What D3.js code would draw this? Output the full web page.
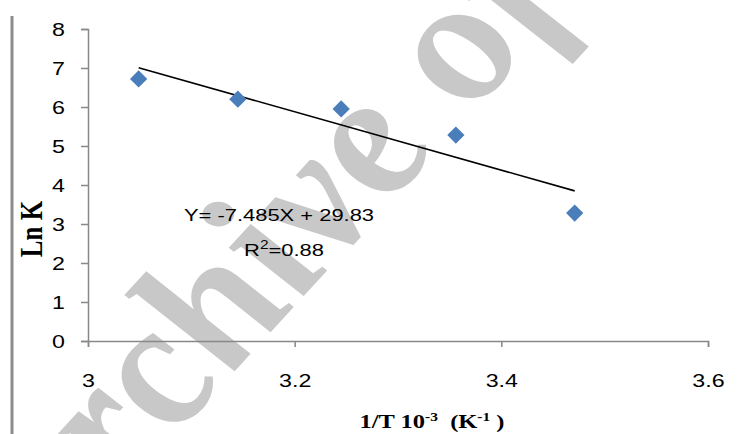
<!DOCTYPE html>
<html>
<head>
<meta charset="utf-8">
<script src="https://cdn.jsdelivr.net/npm/d3@7"></script>
<style>
  html, body { margin: 0; padding: 0; background: #fff; }
  svg { display: block; }
</style>
</head>
<body>
<svg id="chart" width="747" height="434"></svg>
<script>
// ---- data ----
const xValues = [3.049, 3.145, 3.245, 3.356, 3.471];
const lnK = [6.72, 6.20, 5.95, 5.28, 3.28];
const slope = -7.485;
const intercept = 29.83;
const r2Label = "0.88";
const xTicks = [3, 3.2, 3.4, 3.6];
const yTicks = [0, 1, 2, 3, 4, 5, 6, 7, 8];
const xTitle = "1/T 10";
const yTitle = "Ln K";
const watermark = "Archive of SID";

const SX = 1.29; // horizontal stretch of the original picture's text
const svg = d3.select("#chart");
const x = d3.scaleLinear().domain([3, 3.6]).range([88, 708]);
const y = d3.scaleLinear().domain([0, 8]).range([341, 29]);

// left border line
svg.append("line").attr("x1", 12).attr("x2", 12).attr("y1", 16).attr("y2", 434)
  .attr("stroke", "#8c8c8c").attr("stroke-width", 3);

// watermark (behind)
svg.append("text")
  .attr("transform", `translate(48,574) scale(${SX},1) rotate(-54.5)`)
  .attr("font-family", "Liberation Serif")
  .attr("font-weight", "bold").attr("font-style", "italic")
  .attr("font-size", 164).attr("fill", "#c8c8c8")
  .text(watermark);

// axes
const axisColor = "#888888";
const sansFont = "Liberation Sans, Arial, sans-serif";
const yAxis = svg.append("g").attr("transform", "translate(88,0)")
  .call(d3.axisLeft(y).tickValues(yTicks).tickSize(7).tickFormat(d3.format("d")));
const xAxis = svg.append("g").attr("transform", "translate(0,341)")
  .call(d3.axisBottom(x).tickValues(xTicks).tickSize(6).tickFormat(d => d === 3 ? "3" : d3.format(".1f")(d)));
[yAxis, xAxis].forEach(g => {
  g.select(".domain").attr("stroke", axisColor).attr("stroke-width", 1.5);
  g.selectAll(".tick line").attr("stroke", axisColor).attr("stroke-width", 1.5);
  g.selectAll(".tick text").attr("fill", "#000")
    .attr("font-family", sansFont).attr("font-size", 18);
});
yAxis.selectAll(".tick text")
  .attr("x", null).attr("dy", null)
  .attr("transform", `translate(-23,6.5) scale(${SX},1)`);
xAxis.selectAll(".tick text")
  .attr("y", null).attr("dy", null)
  .attr("transform", `translate(0,46) scale(${SX},1)`);

// trend line
const xMin = d3.min(xValues), xMax = d3.max(xValues);
svg.append("line")
  .attr("x1", x(xMin)).attr("y1", y(slope * xMin + intercept))
  .attr("x2", x(xMax)).attr("y2", y(slope * xMax + intercept))
  .attr("stroke", "#000").attr("stroke-width", 1.6);

// points (diamonds)
const sym = d3.symbol().type(d3.symbolDiamond2).size(190);
svg.append("g").selectAll("path").data(xValues).join("path")
  .attr("transform", (d, i) => `translate(${x(d)},${y(lnK[i])})`)
  .attr("d", sym)
  .attr("fill", "#4a7ebb");

// equation text
svg.append("text").attr("transform", `translate(279,220.5) scale(${SX},1)`).attr("text-anchor", "middle")
  .attr("font-family", sansFont).attr("font-size", 17).attr("fill", "#000")
  .text(`Y= ${slope}X + ${intercept}`);
const r2 = svg.append("text").attr("transform", `translate(284,256) scale(${SX},1)`).attr("text-anchor", "middle")
  .attr("font-family", sansFont).attr("font-size", 17).attr("fill", "#000");
r2.append("tspan").text("R");
r2.append("tspan").attr("dy", -7).attr("font-size", 12).text("2");
r2.append("tspan").attr("dy", 7).text("=" + r2Label);

// axis titles
const serif = "Liberation Serif, Times New Roman, serif";
const xt = svg.append("text").attr("transform", `translate(432,428) scale(${SX},1)`).attr("text-anchor", "middle")
  .attr("font-family", serif).attr("font-weight", "bold")
  .attr("font-size", 19).attr("fill", "#000");
xt.append("tspan").text(xTitle);
xt.append("tspan").attr("dy", -7).attr("font-size", 12).text("-3");
xt.append("tspan").attr("dy", 7).text("\u00a0\u00a0(K");
xt.append("tspan").attr("dy", -7).attr("font-size", 12).text("-1");
xt.append("tspan").attr("dy", 7).text("\u00a0)");

svg.append("text").attr("transform", `translate(42,229) scale(${SX},1) rotate(-90)`).attr("text-anchor", "middle")
  .attr("font-family", serif).attr("font-weight", "bold")
  .attr("font-size", 25).attr("fill", "#000")
  .text(yTitle);
</script>
</body>
</html>
